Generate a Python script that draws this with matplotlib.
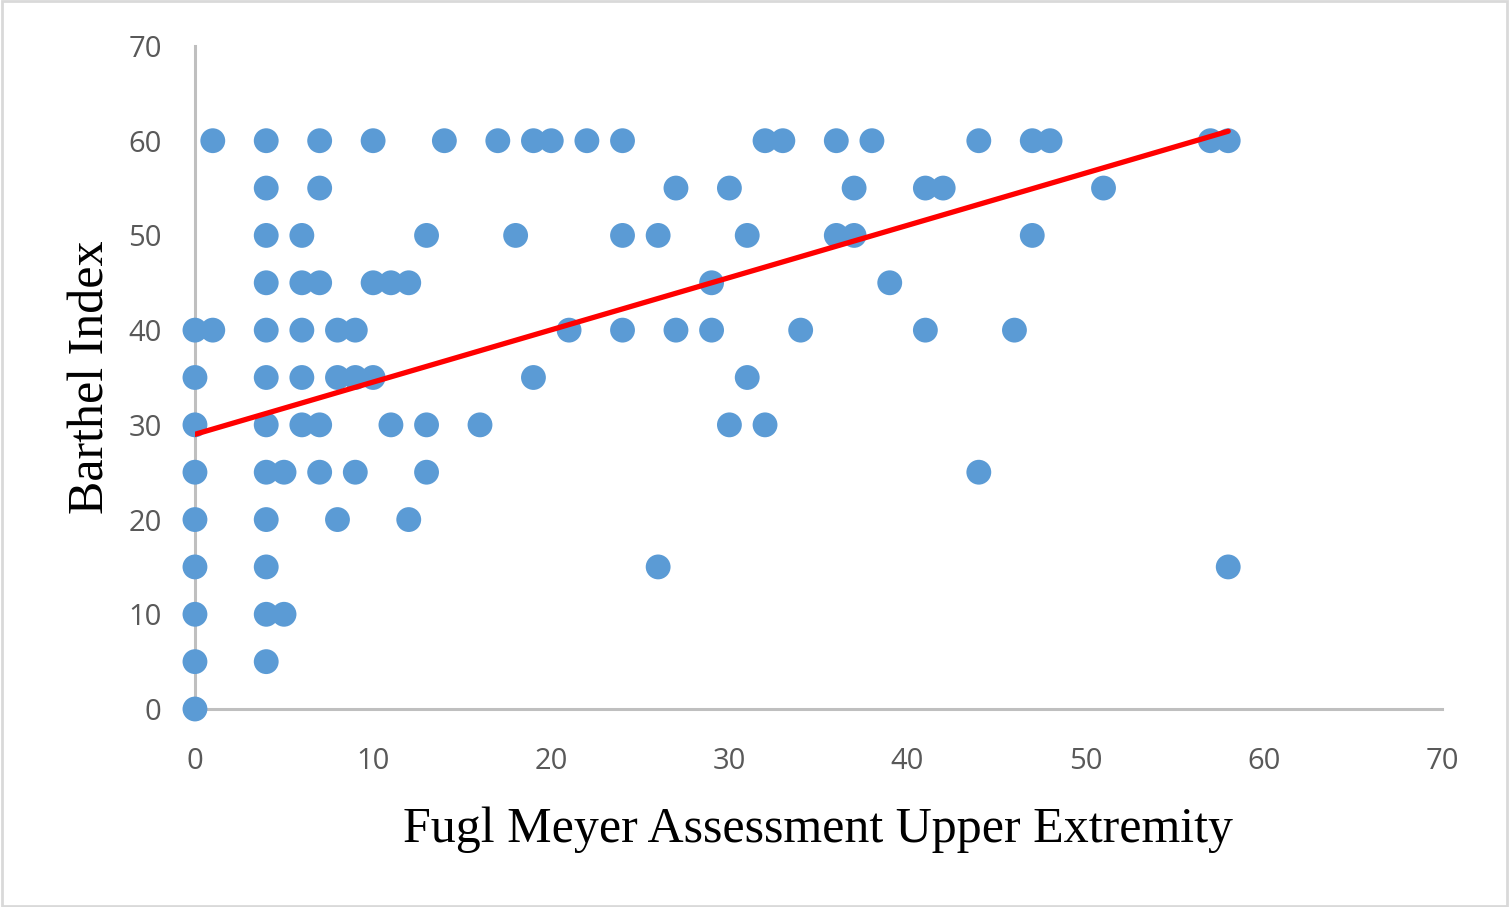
import matplotlib.pyplot as plt
import matplotlib.patches as patches
import numpy as np

# Fugl Meyer (x) vs Barthel Index (y)
fma_ue = [1, 4, 7, 10, 14, 17, 19, 20, 22, 24, 32, 33, 36, 38, 44, 47, 48, 57, 58,
          4, 7, 27, 30, 37, 41, 42, 51,
          4, 6, 13, 18, 24, 26, 31, 36, 37, 47,
          4, 6, 7, 10, 11, 12, 29, 39,
          0, 1, 4, 6, 8, 9, 21, 24, 27, 29, 34, 41, 46,
          0, 4, 6, 8, 9, 10, 19, 31,
          0, 4, 6, 7, 11, 13, 16, 30, 32,
          0, 4, 5, 7, 9, 13, 44,
          0, 4, 8, 12,
          0, 4, 26, 58,
          0, 4, 5,
          0, 4,
          0]
barthel = [60] * 19 + [55] * 8 + [50] * 10 + [45] * 8 + [40] * 13 + [35] * 8 \
    + [30] * 9 + [25] * 7 + [20] * 4 + [15] * 4 + [10] * 3 + [5] * 2 + [0]

# trend line as drawn in the chart (end points)
trend_x = [0, 58]
trend_y = [29, 61]

x_ticks = [0, 10, 20, 30, 40, 50, 60, 70]
y_ticks = [0, 10, 20, 30, 40, 50, 60, 70]

fig = plt.figure(figsize=(15.09, 9.07), dpi=100)
ax = fig.add_axes([0.1292, 0.2183, 0.8264, 0.7310])

ax.scatter(fma_ue, barthel, s=320, color='#5B9BD5', edgecolors='none', zorder=3, clip_on=False)
ax.plot(trend_x, trend_y, color='#FF0000', linewidth=3.8,
        solid_capstyle='round', zorder=4)

ax.set_xlim(0, 70)
ax.set_ylim(0, 70)
ax.set_xticks(x_ticks)
ax.set_yticks(y_ticks)
for side in ['top', 'right']:
    ax.spines[side].set_visible(False)
for side in ['left', 'bottom']:
    ax.spines[side].set_color('#BFBFBF')
    ax.spines[side].set_linewidth(2.2)
ax.tick_params(length=0, labelsize=21, labelcolor='#595959')
ax.tick_params(axis='x', pad=27)
ax.tick_params(axis='y', pad=24)
for lbl in ax.get_xticklabels() + ax.get_yticklabels():
    lbl.set_family('Open Sans')

ax.set_xlabel('Fugl Meyer Assessment Upper Extremity', fontsize=36,
              family='Liberation Serif', color='black', labelpad=22)
ax.set_ylabel('Barthel Index', fontsize=36, family='Liberation Serif',
              color='black', labelpad=10)

# light grey chart-area border
fig.patches.append(patches.Rectangle((0.001, 0.001), 0.998, 0.998, transform=fig.transFigure,
                                     fill=False, edgecolor='#D9D9D9', linewidth=2))

fig.savefig('out.png', dpi=100)
